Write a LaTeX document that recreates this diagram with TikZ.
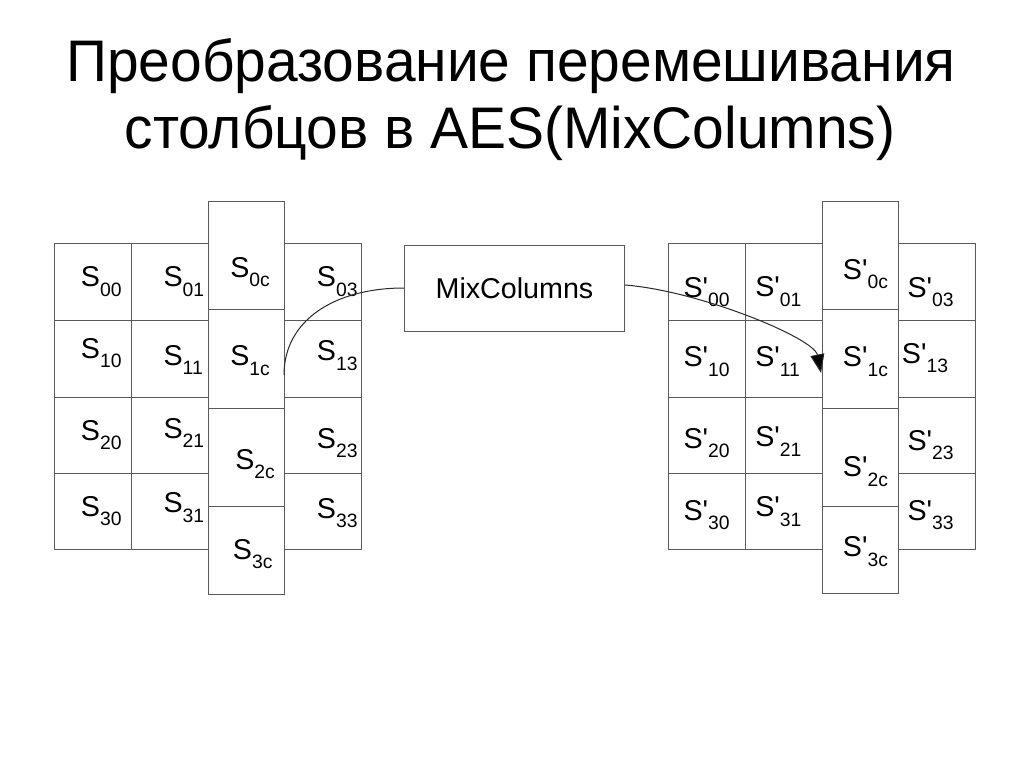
\documentclass[tikz,border=0pt]{standalone}
\usepackage{fontspec}
\newfontfamily\cellfont{Liberation Sans}
\usetikzlibrary{arrows.meta}

\newcommand{\titlesize}{\fontsize{44}{50}\selectfont}
\newcommand{\cellsize}{\fontsize{21.5}{24}\selectfont}
\newcommand{\subsize}{\fontsize{14.5}{16}\selectfont}
\newcommand{\sname}[1]{S\raisebox{-0.33em}{\subsize #1}}
\newcommand{\spname}[1]{S'\raisebox{-0.33em}{\subsize #1}}
\newcommand{\narrow}[1]{\scalebox{0.97}[1]{#1}}

\begin{document}
\begin{tikzpicture}[x=0.75pt,y=0.75pt,yscale=-1,xscale=1,
  cell/.style={draw={rgb, 255:red, 90; green, 90; blue, 90}, line width=0.75pt},
  lbl/.style={anchor=base west, inner sep=0pt, font=\cellfont\cellsize},
  ttl/.style={anchor=base, inner sep=0pt, font=\cellfont\titlesize},
  wire/.style={draw={rgb, 255:red, 40; green, 40; blue, 40}, line width=0.75pt}]
\useasboundingbox (0,0) rectangle (1024,767);

%Title
\node[ttl] (ttlA) at (511,81) {\narrow{Преобразование перемешивания}};
\node[ttl] (ttlB) at (510,148) {\narrow{столбцов в AES(MixColumns)}};

%Shape: Rectangle -- state, left columns
\draw[cell] (54,243) rectangle (131,320);
\draw[cell] (131,243) rectangle (208,320);
\draw[cell] (284,243) rectangle (361,320);
\draw[cell] (54,320) rectangle (131,397);
\draw[cell] (131,320) rectangle (208,397);
\draw[cell] (284,320) rectangle (361,397);
\draw[cell] (54,397) rectangle (131,473);
\draw[cell] (131,397) rectangle (208,473);
\draw[cell] (284,397) rectangle (361,473);
\draw[cell] (54,473) rectangle (131,549);
\draw[cell] (131,473) rectangle (208,549);
\draw[cell] (284,473) rectangle (361,549);
%Shape: Rectangle -- state, column c
\draw[cell] (208,201) rectangle (284,309);
\draw[cell] (208,309) rectangle (284,408);
\draw[cell] (208,408) rectangle (284,506);
\draw[cell] (208,506) rectangle (284,594);

%Shape: Rectangle -- new state, columns
\draw[cell] (668,243) rectangle (745,320);
\draw[cell] (745,243) rectangle (822,320);
\draw[cell] (898,243) rectangle (975,320);
\draw[cell] (668,320) rectangle (745,397);
\draw[cell] (745,320) rectangle (822,397);
\draw[cell] (898,320) rectangle (975,397);
\draw[cell] (668,397) rectangle (745,473);
\draw[cell] (745,397) rectangle (822,473);
\draw[cell] (898,397) rectangle (975,473);
\draw[cell] (668,473) rectangle (745,549);
\draw[cell] (745,473) rectangle (822,549);
\draw[cell] (898,473) rectangle (975,549);
%Shape: Rectangle -- new state, column c
\draw[cell] (822,201) rectangle (898,309);
\draw[cell] (822,309) rectangle (898,408);
\draw[cell] (822,408) rectangle (898,506);
\draw[cell] (822,506) rectangle (898,593);

%Labels -- state
\node[lbl] (s00) at (80.7,286.7) {\sname{00}};
\node[lbl] (s01) at (163.3,286.7) {\sname{01}};
\node[lbl] (s0c) at (230,277.3) {\sname{0c}};
\node[lbl] (s03) at (316.7,286.7) {\sname{03}};
\node[lbl] (s10) at (80.7,358.3) {\sname{10}};
\node[lbl] (s11) at (163.3,365) {\sname{11}};
\node[lbl] (s1c) at (230,365.7) {\sname{1c}};
\node[lbl] (s13) at (316.7,360.7) {\sname{13}};
\node[lbl] (s20) at (80.7,440) {\sname{20}};
\node[lbl] (s21) at (163.3,438.3) {\sname{21}};
\node[lbl] (s2c) at (235,469.3) {\sname{2c}};
\node[lbl] (s23) at (316.7,448.3) {\sname{23}};
\node[lbl] (s30) at (80.7,516) {\sname{30}};
\node[lbl] (s31) at (163.3,512.7) {\sname{31}};
\node[lbl] (s3c) at (232.7,559.3) {\sname{3c}};
\node[lbl] (s33) at (316.7,518.3) {\sname{33}};

%Labels -- new state
\node[lbl] (t00) at (683.3,297.3) {\spname{00}};
\node[lbl] (t01) at (755,296.7) {\spname{01}};
\node[lbl] (t0c) at (842.7,279) {\spname{0c}};
\node[lbl] (t03) at (907.3,297.3) {\spname{03}};
\node[lbl] (t10) at (683.3,366.7) {\spname{10}};
\node[lbl] (t11) at (755,366.7) {\spname{11}};
\node[lbl] (t1c) at (842.7,366.7) {\spname{1c}};
\node[lbl] (t13) at (901.7,363.3) {\spname{13}};
\node[lbl] (t20) at (683.3,448.3) {\spname{20}};
\node[lbl] (t21) at (755,446.7) {\spname{21}};
\node[lbl] (t2c) at (842.7,476.7) {\spname{2c}};
\node[lbl] (t23) at (907.3,450) {\spname{23}};
\node[lbl] (t30) at (683.3,520) {\spname{30}};
\node[lbl] (t31) at (755,516.7) {\spname{31}};
\node[lbl] (t3c) at (842.7,556.7) {\spname{3c}};
\node[lbl] (t33) at (907.3,520) {\spname{33}};

%Shape: Rectangle -- MixColumns
\node[cell, minimum width=165pt, minimum height=64.5pt, inner sep=0pt, font=\cellfont\cellsize] (mix) at (514.5,288) {MixColumns};

%Curve Lines
\coordinate (inC) at (284,375);
\coordinate (outC) at (821,373);
\draw[wire] (mix.west) .. controls (335,288) and (284,320) .. (inC);
\draw[wire, -{Triangle[length=14pt, width=10.5pt, fill=black]}] ([yshift=-2.25pt]mix.east) .. controls (700,291) and (814,338) .. (outC);

\end{tikzpicture}
\end{document}
